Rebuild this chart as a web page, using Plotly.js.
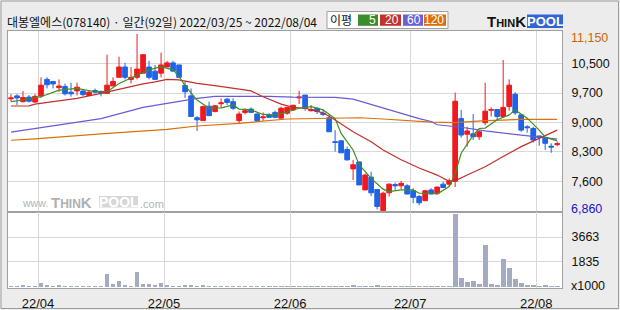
<!DOCTYPE html>
<html><head><meta charset="utf-8">
<script src="https://cdn.plot.ly/plotly-3.0.1.min.js"></script>
<style>html,body{margin:0;padding:0;background:#ececec;overflow:hidden}#chart{width:620px;height:310px}</style>
</head><body><div id="chart"></div>
<script>
// ---- data ----
const chartTitle = '대봉엘에스(078140) · 일간(92일) 2022/03/25 ~ 2022/08/04';
const dates = [
 '2022-03-25','2022-03-28','2022-03-29','2022-03-30','2022-03-31',
 '2022-04-01','2022-04-04','2022-04-05','2022-04-06','2022-04-07','2022-04-08','2022-04-11','2022-04-12','2022-04-13','2022-04-14','2022-04-15',
 '2022-04-18','2022-04-19','2022-04-20','2022-04-21','2022-04-22','2022-04-25','2022-04-26','2022-04-27','2022-04-28','2022-04-29',
 '2022-05-02','2022-05-03','2022-05-04','2022-05-06','2022-05-09','2022-05-10','2022-05-11','2022-05-12','2022-05-13','2022-05-16',
 '2022-05-17','2022-05-18','2022-05-19','2022-05-20','2022-05-23','2022-05-24','2022-05-25','2022-05-26','2022-05-27','2022-05-30','2022-05-31',
 '2022-06-02','2022-06-03','2022-06-07','2022-06-08','2022-06-09','2022-06-10','2022-06-13','2022-06-14','2022-06-15','2022-06-16',
 '2022-06-17','2022-06-20','2022-06-21','2022-06-22','2022-06-23','2022-06-24','2022-06-27','2022-06-28','2022-06-29','2022-06-30',
 '2022-07-01','2022-07-04','2022-07-05','2022-07-06','2022-07-07','2022-07-08','2022-07-11','2022-07-12','2022-07-13','2022-07-14',
 '2022-07-15','2022-07-18','2022-07-19','2022-07-20','2022-07-21','2022-07-22','2022-07-25','2022-07-26','2022-07-27','2022-07-28','2022-07-29',
 '2022-08-01','2022-08-02','2022-08-03','2022-08-04'
];
const openP = [9580,9650,9510,9620,9500,9650,10050,10000,9850,9880,9740,9770,9770,9660,9780,9760,9710,9890,10100,10350,10050,10100,10200,10350,10250,10200,
 10350,10450,10400,9900,9650,9120,9050,9400,9270,9460,9570,9510,9050,9250,9330,9210,9120,9190,9250,9110,9230,
 9310,9600,9670,9290,9350,9230,9120,8540,8560,8350,7880,8050,7370,7680,7380,6870,7300,7500,7470,7470,
 7350,7210,7110,7370,7290,7510,7510,7580,9100,8720,8730,8660,9000,9300,9320,9150,9390,9690,9190,8900,8860,
 8680,8640,8430,8470];
const highP = [9690,9690,9770,9670,9690,10100,10100,10000,10050,9950,9970,9970,9780,9790,9830,9770,10650,10100,10600,10450,10350,11150,10650,10500,10400,10700,
 10500,10500,10400,10000,9830,9160,9410,9510,9430,9590,9600,9590,9270,9350,9370,9230,9250,9230,9290,9390,9390,
 9440,9770,9670,9430,9370,9320,9190,8820,8580,8420,8100,8050,7770,7810,7380,7330,7530,7550,7590,7510,
 7410,7250,7370,7410,7450,7570,7650,9730,9310,8900,9210,8820,9970,9370,9320,10520,10050,9740,9190,8940,8900,
 8680,8640,8500,8540];
const lowP = [9510,9430,9490,9490,9490,9600,9830,9830,9750,9660,9630,9660,9650,9650,9710,9640,9710,9890,10100,10050,9950,10050,10200,10050,10050,10100,
 10350,10250,10100,9600,9150,8800,9050,9170,9250,9360,9430,9310,8990,9200,9250,9050,9050,9120,9110,9110,9190,
 9290,9450,9290,9270,9210,9160,8780,8300,8270,8080,7610,7490,7370,7220,6900,6860,7210,7370,7390,7270,
 7050,7000,7110,7270,7270,7410,7450,7440,8640,8420,8580,8580,8940,9150,9050,9120,9290,9190,8780,8760,8520,
 8440,8340,8270,8430];
const closeP = [9600,9600,9610,9520,9640,9910,9920,9940,9890,9700,9700,9860,9680,9740,9740,9720,9910,10000,10350,10100,10100,10300,10650,10100,10050,10400,
 10450,10250,10100,9750,9150,9070,9390,9170,9410,9480,9490,9350,9210,9290,9250,9050,9140,9130,9130,9350,9370,
 9420,9620,9350,9320,9270,9200,8780,8520,8270,8100,7980,7490,7730,7300,6970,7290,7510,7470,7530,7270,
 7190,7060,7350,7270,7440,7430,7590,9520,8700,8800,8660,8780,9280,9320,9150,9370,9910,9240,8820,8880,8580,
 8640,8500,8410,8490];
// volume, thousand shares
const volume = [85,75,170,80,75,290,170,80,150,85,75,80,75,85,80,75,980,245,440,170,80,1100,220,220,170,290,
 150,80,85,150,150,80,150,85,75,80,85,80,75,80,85,80,75,80,85,80,75,
 80,85,75,80,85,75,80,85,80,75,147,80,85,80,150,75,80,85,80,75,
 80,85,75,80,85,80,75,5360,680,367,440,220,3083,220,150,2055,1395,587,293,150,150,
 85,150,80,85];
// moving averages, read where the lines could be read (candle index, price)
const ma5Idx = [0,2,5,8,11,14,16,18,21,23,25,27,28,29,31,33,35,37,38,40,42,44,46,48,50,52,54,55,57,58,60,62,63,65,67,68,70,71,73,74,75,77,78,79,81,83,84,86,88,89,91];
const ma5 = [9510,9550,9630,9790,9830,9750,9750,9950,10150,10280,10360,10280,10120,9900,9550,9350,9360,9430,9330,9310,9200,9190,9260,9350,9390,9310,9100,8740,8340,7980,7650,7390,7330,7370,7370,7290,7290,7270,7450,7770,8260,8700,8860,8870,9070,9190,9310,9110,8820,8650,8560];
const ma20Idx = [0,3,4,8,11,15,18,22,24,26,28,31,34,37,40,42,45,47,49,52,54,57,60,62,65,68,70,71,73,74,76,79,82,85,88,91];
const ma20 = [9405,9410,9450,9530,9590,9710,9810,9940,9990,10050,10040,9955,9900,9830,9770,9630,9450,9370,9350,9240,9065,8780,8540,8340,8100,7900,7780,7730,7580,7590,7730,7930,8180,8420,8620,8820];
const ma60Idx = [0,15,22,28,31,34,40,43,47,54,57,62,68,70,71,75,79,85,91];
const ma60 = [8770,9100,9370,9510,9590,9640,9645,9640,9620,9615,9570,9350,9100,9030,8950,8890,8800,8700,8600];
const ma120Idx = [0,4,15,26,31,38,46,50,58,62,66,70,74,79,85,91];
const ma120 = [8575,8610,8730,8840,8920,8985,9090,9105,9120,9090,9050,9015,9000,9050,9080,9080];
const maNames = ['5','20','60','120'];
const maLegendLabel = '이평';
const priceTickVals = [7575,8290,9005,9720,10435];
const priceTickText = ['7,600','8,300','9,000','9,700','10,500'];
const priceMaxLabel = '11,150', priceMinLabel = '6,860';
const priceMaxVal = 11150, priceMinVal = 6860;
const volTickVals = [1835,3663];
const volTickText = ['1835','3663'];
const volUnitLabel = 'x1000';

// ---- derived ----
const idx = dates.map((d,i)=>i);
const monthTickVals = [], monthTickText = [];
dates.forEach((d,i)=>{ if(i>0 && d.slice(5,7)!==dates[i-1].slice(5,7)){ monthTickVals.push(i-0.5); monthTickText.push(d.slice(2,4)+'/'+d.slice(5,7)); } });

// ---- styling ----
const L=8, R=562, T=31, B=288, DIV=212;
const W=R-L, H=B-T;
const px = v => (v-L)/W, py = v => (B-v)/H;
const RED='#f0191e', BLUE='#1f63e6';
const maColors=['#3f8f1f','#c0302c','#6a5ad8','#dc6f0a'];
const legColors=['#3a8c2c','#c4322c','#6a60d6','#dc6f0a'];
const NUMFONT='Liberation Sans, Arial, sans-serif';
const KFONT='Noto Sans CJK KR, sans-serif';

const maTrace=(x,y,c)=>({type:'scatter',mode:'lines',x:x,y:y,xaxis:'x',yaxis:'y',line:{color:c,width:1.2},hoverinfo:'skip'});
const traces=[
 maTrace(ma120Idx,ma120,maColors[3]),
 maTrace(ma60Idx,ma60,maColors[2]),
 maTrace(ma20Idx,ma20,maColors[1]),
 maTrace(ma5Idx,ma5,maColors[0]),
 {type:'candlestick',x:idx,open:openP,high:highP,low:lowP,close:closeP,xaxis:'x',yaxis:'y',
  increasing:{line:{color:RED,width:1},fillcolor:RED},decreasing:{line:{color:BLUE,width:1},fillcolor:BLUE},
  whiskerwidth:0,hoverinfo:'skip'},
 {type:'bar',x:idx,y:volume,xaxis:'x2',yaxis:'y2',marker:{color:'#a3abc3',line:{width:0}},width:0.8,hoverinfo:'skip'}
];

const shapes=[
 {type:'rect',xref:'paper',yref:'paper',x0:px(1),x1:px(618.5),y0:py(308.5),y1:py(1),line:{color:'#9c9c9c',width:1},fillcolor:'rgba(0,0,0,0)',layer:'below'},
 {type:'rect',xref:'paper',yref:'paper',x0:px(327),x1:px(448),y0:py(28.5),y1:py(11.5),line:{color:'#a0a0a0',width:1},fillcolor:'#ffffff'},
 {type:'rect',xref:'paper',yref:'paper',x0:px(527),x1:px(563),y0:py(28),y1:py(14.5),line:{width:0},fillcolor:'#3165d4'},
 {type:'rect',xref:'paper',yref:'paper',x0:px(99),x1:px(138),y0:py(207.5),y1:py(196),line:{width:0},fillcolor:'#d6d6d6'}
];
const legBoxes=[[358,378],[380,401],[403,423],[424,446]];
legBoxes.forEach((b,k)=>shapes.push({type:'rect',xref:'paper',yref:'paper',x0:px(b[0]),x1:px(b[1]),y0:py(25.8),y1:py(14.5),line:{width:0},fillcolor:legColors[k]}));

const ann=(text,x,y,o)=>Object.assign({text:text,xref:'paper',yref:'paper',x:px(x),y:py(y),showarrow:false,xanchor:'left',yanchor:'middle',borderpad:0,font:{family:NUMFONT,size:12.5,color:'#111'}},o||{});
const annotations=[
 ann(chartTitle,6,21.5,{font:{family:KFONT,size:12,color:'#111'}}),
 ann(maLegendLabel,341,20,{xanchor:'center',font:{family:KFONT,size:12,color:'#111'}}),
 ann('T<span style="font-size:11px">HIN</span>K',526.5,21.5,{xanchor:'right',font:{family:'Liberation Sans, Arial',size:15,color:'#111',weight:700}}),
 ann('<b>POOL</b>',545,21.5,{xanchor:'center',font:{family:'Liberation Sans, Arial',size:13,color:'#ffffff'}}),
 ann('www.',21,203,{font:{family:'Liberation Sans, Arial',size:10.5,color:'#b4b4b4'}}),
 ann('<b>T<span style="font-size:12px">HIN</span>K</b>',50,202,{font:{family:'Liberation Sans, Arial',size:15,color:'#b0b0b0'}}),
 ann('<b>POOL</b>',118.5,202,{xanchor:'center',font:{family:'Liberation Sans, Arial',size:14,color:'#ffffff'}}),
 ann('.com',139,203.5,{font:{family:'Liberation Sans, Arial',size:11,color:'#b4b4b4'}}),
 ann(priceMaxLabel,570,0,{yref:'y',y:priceMaxVal,yshift:-4,font:{family:NUMFONT,size:12.5,color:'#c8680a'}}),
 ann(priceMinLabel,570,0,{yref:'y',y:priceMinVal,yshift:2,font:{family:NUMFONT,size:12.5,color:'#1414c8'}}),
 ann(volUnitLabel,570,286,{})
];
maNames.forEach((n,k)=>annotations.push(ann(n,legBoxes[k][1]-1,20.5,{xanchor:'right',font:{family:NUMFONT,size:12,color:'#ffffff'}})));

const grid='#d8d8d8', border='#a0a0a0';
const xCommon={range:[-0.5,91.8],tickvals:monthTickVals,showgrid:true,gridcolor:grid,gridwidth:1,zeroline:false,showline:true,mirror:true,linecolor:border,linewidth:1,fixedrange:true};
const layout={
 width:620,height:310,margin:{l:L,r:620-R,t:T,b:310-B,pad:0},
 paper_bgcolor:'#ececec',plot_bgcolor:'#ffffff',showlegend:false,
 boxgap:0.12,boxgroupgap:0.12,bargap:0,
 xaxis:Object.assign({},xCommon,{domain:[0,1],anchor:'y',showticklabels:false,ticks:'',rangeslider:{visible:false}}),
 xaxis2:Object.assign({},xCommon,{domain:[0,1],anchor:'y2',matches:'x',ticktext:monthTickText,ticks:'',
   tickfont:{family:NUMFONT,size:13,color:'#111'},ticklabelstandoff:3}),
 yaxis:{domain:[py(DIV),1],range:[6835,11223],side:'right',anchor:'x',tickvals:priceTickVals,ticktext:priceTickText,
   showgrid:true,gridcolor:grid,zeroline:false,showline:true,mirror:true,linecolor:border,linewidth:1,
   ticks:'outside',ticklen:6,tickcolor:'rgba(0,0,0,0)',tickfont:{family:NUMFONT,size:12.5,color:'#111'},fixedrange:true},
 yaxis2:{domain:[0,py(DIV)],range:[-85,5505],side:'right',anchor:'x2',tickvals:volTickVals,ticktext:volTickText,
   showgrid:true,gridcolor:grid,zeroline:false,showline:true,mirror:true,linecolor:border,linewidth:1,
   ticks:'outside',ticklen:6,tickcolor:'rgba(0,0,0,0)',tickfont:{family:NUMFONT,size:12.5,color:'#111'},fixedrange:true},
 shapes:shapes,annotations:annotations
};
Plotly.newPlot('chart',traces,layout,{displayModeBar:false,staticPlot:true});
</script></body></html>
